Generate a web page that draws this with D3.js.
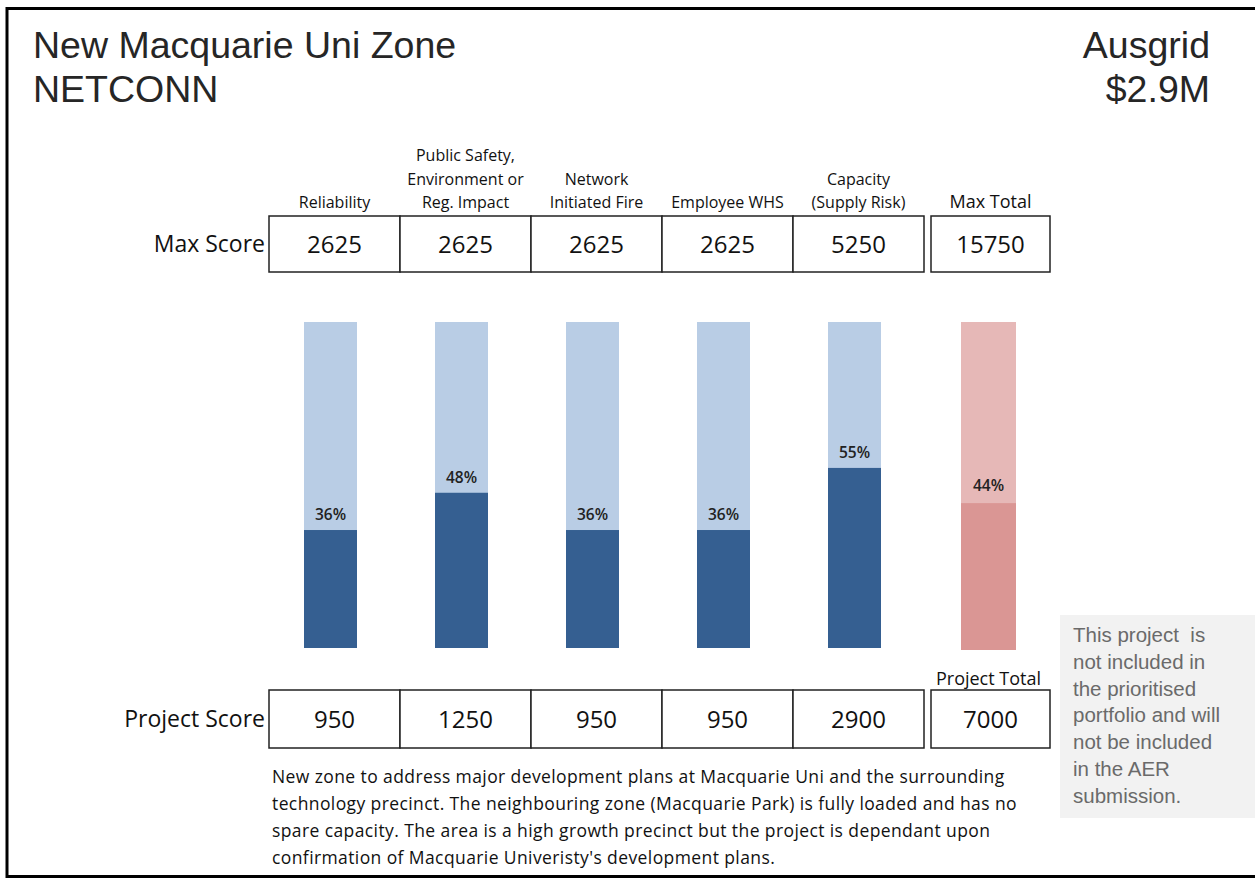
<!DOCTYPE html>
<html><head><meta charset="utf-8">
<script src="https://cdn.jsdelivr.net/npm/d3@7"></script>
<style>
html,body{margin:0;padding:0;background:#fff;}
svg{display:block;}
</style></head>
<body>
<svg id="chart" width="1255" height="878"></svg>
<script>
// ---- data ----
const titleLines = ["New Macquarie Uni Zone", "NETCONN"];
const ownerLines = ["Ausgrid", "$2.9M"];
const categories = [
  ["Reliability"],
  ["Public Safety,", "Environment or", "Reg. Impact"],
  ["Network", "Initiated Fire"],
  ["Employee WHS"],
  ["Capacity", "(Supply Risk)"]
];
const maxScores = [2625, 2625, 2625, 2625, 5250];
const projectScores = [950, 1250, 950, 950, 2900];
const maxTotal = 15750;
const projectTotal = 7000;
const pctLabels = ["36%", "48%", "36%", "36%", "55%"];
const totalPctLabel = "44%";
const description = [
  "New zone to address major development plans at Macquarie Uni and the surrounding",
  "technology precinct. The neighbouring zone (Macquarie Park) is fully loaded and has no",
  "spare capacity. The area is a high growth precinct but the project is dependant upon",
  "confirmation of Macquarie Univeristy's development plans."
];
const noteLines = ["This project  is", "not included in", "the prioritised", "portfolio and will", "not be included", "in the AER", "submission."];

// ---- layout ----
const svg = d3.select("#chart");
const sans = "'Liberation Sans', Arial, sans-serif";
const cal = "'Open Sans', Lato, sans-serif";

// frame
svg.append("path").attr("d", "M7,878 L7,8.5 L1255,8.5").attr("fill","none").attr("stroke","#000").attr("stroke-width",3);
svg.append("line").attr("x1",7).attr("x2",1255).attr("y1",876.5).attr("y2",876.5).attr("stroke","#000").attr("stroke-width",3);

// titles
svg.selectAll("text.title").data(titleLines).enter().append("text")
  .attr("x", 33).attr("y", (d,i)=>58+i*44).text(d=>d)
  .attr("font-family", sans).attr("font-size", 37.5).attr("fill","#262626");
svg.selectAll("text.owner").data(ownerLines).enter().append("text")
  .attr("x", 1210).attr("y", (d,i)=>58+i*44).text(d=>d).attr("text-anchor","end")
  .attr("font-family", sans).attr("font-size", 37.5).attr("fill","#262626");

// scales
const idx = d3.range(categories.length);
const x = d3.scaleBand().domain(idx).range([269, 924]).padding(0);
const totalX0 = 931, totalW = 119;
const y = d3.scaleLinear().domain([0, 1]).range([648, 322]);
const barW = 53;
const barOffset = -4;

// category headers
const hdr = svg.append("g");
idx.forEach(i => {
  const lines = categories[i];
  const cx = x(i) + x.bandwidth()/2;
  lines.forEach((t, j) => {
    hdr.append("text").attr("x", cx).attr("y", 208 - (lines.length-1-j)*23.5)
      .attr("text-anchor","middle").attr("font-family", cal).attr("font-size", 16)
      .attr("fill","#111").text(t);
  });
});
hdr.append("text").attr("x", totalX0 + totalW/2).attr("y", 208).attr("text-anchor","middle")
  .attr("font-family", cal).attr("font-size", 18).attr("fill","#111").text("Max Total");

// tables
function table(y0, h, vals, total, label) {
  const g = svg.append("g");
  g.append("text").attr("x", 265).attr("y", y0 + h/2 + 8).attr("text-anchor","end")
    .attr("font-family", cal).attr("font-size", 23).attr("fill","#111").text(label);
  idx.forEach(i => {
    g.append("rect").attr("x", x(i)).attr("y", y0).attr("width", x.bandwidth()).attr("height", h)
      .attr("fill","#fff").attr("stroke","#222").attr("stroke-width",1.5);
    g.append("text").attr("x", x(i)+x.bandwidth()/2).attr("y", y0 + h/2 + 8.5).attr("text-anchor","middle")
      .attr("font-family", cal).attr("font-size", 24).attr("fill","#111").text(vals[i]);
  });
  g.append("rect").attr("x", totalX0).attr("y", y0).attr("width", totalW).attr("height", h)
    .attr("fill","#fff").attr("stroke","#222").attr("stroke-width",1.5);
  g.append("text").attr("x", totalX0+totalW/2).attr("y", y0 + h/2 + 8.5).attr("text-anchor","middle")
    .attr("font-family", cal).attr("font-size", 24).attr("fill","#111").text(total);
}
table(216, 56, maxScores, maxTotal, "Max Score");
table(690, 58, projectScores, projectTotal, "Project Score");
svg.append("text").attr("x", totalX0+totalW/2 - 2).attr("y", 685).attr("text-anchor","middle")
  .attr("font-family", cal).attr("font-size", 18).attr("fill","#111").text("Project Total");

// bars
const bars = svg.append("g");
idx.forEach(i => {
  const bx = x(i) + x.bandwidth()/2 - barW/2 + barOffset;
  const r = projectScores[i] / maxScores[i];
  bars.append("rect").attr("x", bx).attr("y", y(1)).attr("width", barW).attr("height", y(0)-y(1)).attr("fill","#b9cde5");
  bars.append("rect").attr("x", bx).attr("y", y(r)).attr("width", barW).attr("height", y(0)-y(r)).attr("fill","#355f91");
  bars.append("text").attr("x", bx + barW/2).attr("y", y(r) - 10).attr("text-anchor","middle")
    .attr("font-family", cal).attr("font-size", 15.5).attr("font-weight", 600).attr("fill","#222").text(pctLabels[i]);
});
{
  const bw = 55;
  const bx = totalX0 + totalW/2 - bw/2 - 2;
  const r = projectTotal / maxTotal;
  bars.append("rect").attr("x", bx).attr("y", y(1)).attr("width", bw).attr("height", y(0)-y(1)+2).attr("fill","#e6b8b7");
  bars.append("rect").attr("x", bx).attr("y", y(r)).attr("width", bw).attr("height", y(0)-y(r)+2).attr("fill","#da9694");
  bars.append("text").attr("x", bx + bw/2).attr("y", y(r) - 12).attr("text-anchor","middle")
    .attr("font-family", cal).attr("font-size", 15.5).attr("font-weight", 600).attr("fill","#222").text(totalPctLabel);
}

// description
svg.selectAll("text.desc").data(description).enter().append("text")
  .attr("x", 272).attr("y", (d,i)=>783 + i*27).text(d=>d)
  .attr("font-family", cal).attr("font-size", 17.5).attr("letter-spacing", 0.4).attr("fill","#111");

// note box
svg.append("rect").attr("x", 1060).attr("y", 615).attr("width", 195).attr("height", 203).attr("fill","#f2f2f2");
svg.selectAll("text.note").data(noteLines).enter().append("text")
  .attr("x", 1073).attr("y", (d,i)=>642 + i*26.8).text(d=>d)
  .attr("font-family", sans).attr("font-size", 20.5).attr("fill","#6a6a6a").style("white-space","pre");
</script>
</body></html>
